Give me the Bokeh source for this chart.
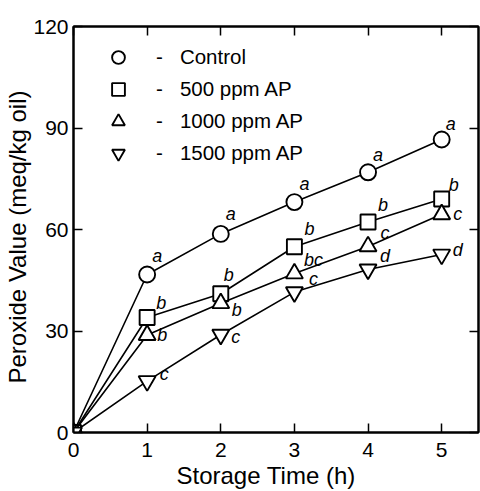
from bokeh.plotting import figure
from bokeh.models import Range1d, FixedTicker, LinearAxis, Legend, LegendItem, ColumnDataSource, Title
from bokeh.core.properties import value
from bokeh.embed import file_html
from bokeh.resources import INLINE

# ---- data ----
time_h = [0, 1, 2, 3, 4, 5]
control = [0, 46.7, 58.7, 68.1, 76.9, 86.6]
ap500 = [0, 34.0, 41.0, 54.9, 62.2, 69.0]
ap1000 = [0, 28.8, 38.2, 47.0, 55.0, 64.5]
ap1500 = [0, 15.2, 28.9, 41.5, 48.2, 52.6]

letters_control = ["a", "a", "a", "a", "a"]
letters_500 = ["b", "b", "b", "b", "b"]
letters_1000 = ["b", "b", "bc", "c", "c"]
letters_1500 = ["c", "c", "c", "d", "d"]

series_names = ["Control", "500 ppm AP", "1000 ppm AP", "1500 ppm AP"]
x_ticks = [0, 1, 2, 3, 4, 5]
y_ticks = [0, 30, 60, 90, 120]
x_title = "Storage Time (h)"
y_title = "Peroxide Value (meq/kg oil)"

# ---- label placement (screen pixel offsets, style only) ----
dx_control = [10, 10, 10, 10, 9]
dy_control = [-18, -20, -18, -17, -16]
dx_500 = [14, 8, 15, 15, 12]
dy_500 = [-14, -19, -18, -17, -14]
dx_1000 = [15, 16, 19, 17, 16]
dy_1000 = [0, 7, -13, -13, 0]
dx_1500 = [17, 15, 19, 17, 16]
dy_1500 = [-7, 2, -13, -13, -5]

FONT = "Liberation Sans"

p = figure(width=480, height=491, x_range=Range1d(0, 5.5), y_range=Range1d(0, 120),
           output_backend="svg", toolbar_location=None,
           min_border_left=73, min_border_right=2, min_border_top=26, min_border_bottom=59,
           background_fill_color="white", border_fill_color="white")
p.grid.visible = False
p.outline_line_color = "black"
p.outline_line_width = 2


def style_axis(ax, show_labels=True):
    ax.axis_line_width = 2
    ax.axis_line_color = "black"
    ax.major_tick_in = 9
    ax.major_tick_out = 0
    ax.major_tick_line_width = 1.5
    ax.minor_tick_line_color = None
    if show_labels:
        ax.major_label_text_font = FONT
        ax.major_label_text_font_size = "21px"
        ax.major_label_text_color = "black"
    else:
        ax.major_label_text_font_size = "0px"
        ax.major_label_text_color = None
        ax.major_label_standoff = 0
        ax.axis_label_standoff = 0


p.xaxis.ticker = FixedTicker(ticks=x_ticks)
p.yaxis.ticker = FixedTicker(ticks=y_ticks)
style_axis(p.xaxis[0])
style_axis(p.yaxis[0])
p.xaxis.major_label_standoff = 10
p.yaxis.major_label_standoff = 5

top_axis = LinearAxis(ticker=FixedTicker(ticks=x_ticks))
style_axis(top_axis, show_labels=False)
p.add_layout(top_axis, "above")
right_axis = LinearAxis(ticker=FixedTicker(ticks=y_ticks))
style_axis(right_axis, show_labels=False)
p.add_layout(right_axis, "right")

# axis titles, placed slightly off-centre as in the reference
p.add_layout(Title(text=x_title, align="left", offset=103, standoff=0,
                   text_font=FONT, text_font_size="24px", text_font_style="normal",
                   text_color="black"), "below")
p.add_layout(Title(text=y_title, align="left", offset=49, standoff=0,
                   text_font=FONT, text_font_size="24px", text_font_style="normal",
                   text_color="black"), "left")

series = [
    (control, "circle", 16, letters_control, dx_control, dy_control),
    (ap500, "square", 15, letters_500, dx_500, dy_500),
    (ap1000, "triangle", 17, letters_1000, dx_1000, dy_1000),
    (ap1500, "inverted_triangle", 17, letters_1500, dx_1500, dy_1500),
]

legend_items = []
for name, (vals, marker, size, letters, dx, dy) in zip(series_names, series):
    src = ColumnDataSource(dict(x=time_h, y=vals))
    p.line("x", "y", source=src, line_color="black", line_width=1.6)
    r = p.scatter("x", "y", source=src, marker=marker, size=size,
                  fill_color="white", line_color="black", line_width=1.9)
    lab = ColumnDataSource(dict(x=time_h[1:], y=vals[1:], t=letters, dx=dx, dy=dy))
    p.text("x", "y", text="t", source=lab, x_offset="dx", y_offset="dy",
           text_font=value(FONT), text_font_style="italic", text_font_size="18px",
           text_align="center", text_baseline="middle", text_color="black")
    legend_items.append(LegendItem(label="-\u00a0\u00a0\u00a0" + name, renderers=[r]))

legend = Legend(items=legend_items, location=(29, 263), glyph_width=32, glyph_height=32,
                spacing=0, padding=0, margin=0, border_line_color=None,
                background_fill_alpha=0, label_standoff=22,
                label_text_font=FONT, label_text_font_size="20.5px", label_text_color="black")
p.add_layout(legend)

open("out.html", "w").write(file_html(p, INLINE))
